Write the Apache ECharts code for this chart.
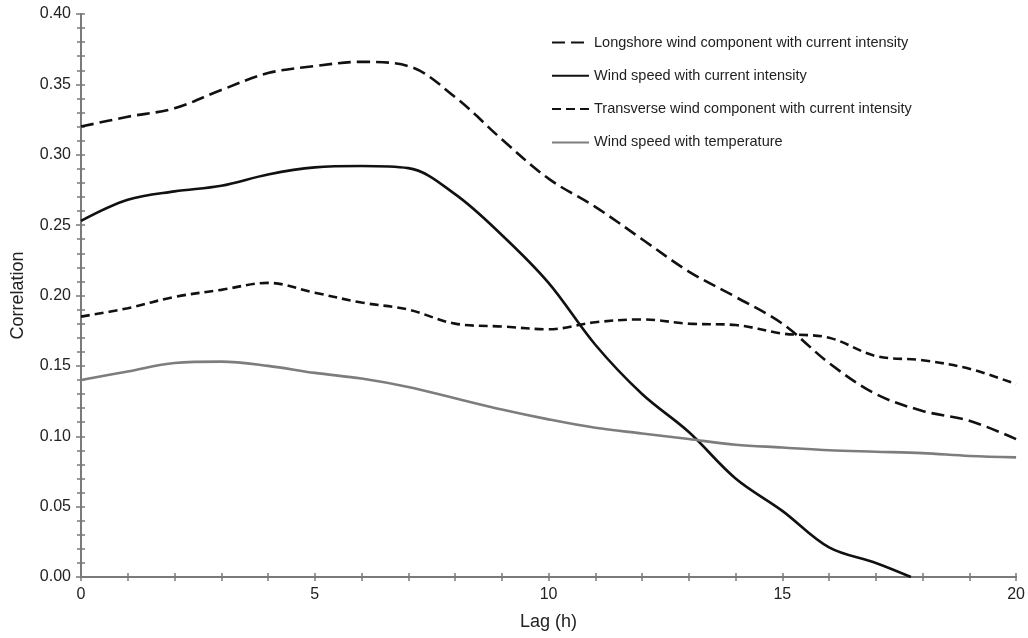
<!DOCTYPE html>
<html>
<head>
<meta charset="utf-8">
<title>Lagged correlation</title>
<script src="https://cdn.jsdelivr.net/npm/echarts@6/dist/echarts.min.js"></script>
<style>
  html, body { margin: 0; padding: 0; background: #ffffff; }
  #chart { width: 1028px; height: 638px; }
</style>
</head>
<body>
<div id="chart"></div>
<script>
// Lag in hours
const lags = [0, 1, 2, 3, 4, 5, 6, 7, 8, 9, 10, 11, 12, 13, 14, 15, 16, 17, 18, 19, 20];

// Correlation series
const longshore   = [0.320, 0.327, 0.333, 0.346, 0.358, 0.363, 0.366, 0.363, 0.341, 0.311, 0.283, 0.263, 0.240, 0.217, 0.199, 0.180, 0.152, 0.130, 0.118, 0.111, 0.098];
const transverse  = [0.185, 0.191, 0.199, 0.204, 0.209, 0.202, 0.195, 0.190, 0.180, 0.178, 0.176, 0.181, 0.183, 0.180, 0.179, 0.173, 0.170, 0.157, 0.154, 0.148, 0.137];
const temperature = [0.140, 0.146, 0.152, 0.153, 0.150, 0.145, 0.141, 0.135, 0.127, 0.119, 0.112, 0.106, 0.102, 0.098, 0.094, 0.092, 0.090, 0.089, 0.088, 0.086, 0.085];

// Wind speed vs current intensity reaches zero before lag 18
const windSpeedLags = [0, 1, 2, 3, 4, 5, 6, 7, 8, 9, 10, 11, 12, 13, 14, 15, 16, 17, 17.75];
const windSpeed     = [0.253, 0.268, 0.274, 0.278, 0.286, 0.291, 0.292, 0.2905, 0.272, 0.243, 0.209, 0.165, 0.130, 0.103, 0.070, 0.047, 0.021, 0.010, 0.000];

const yTicks = ['0.00', '0.05', '0.10', '0.15', '0.20', '0.25', '0.30', '0.35', '0.40'];

const seriesNames = [
  'Longshore wind component with current intensity',
  'Wind speed with current intensity',
  'Transverse wind component with current intensity',
  'Wind speed with temperature'
];

const pairs = (xs, ys) => xs.map((x, i) => [x, ys[i]]);

const axisGray = '#7a7a7a';
const font = '"Liberation Sans", Arial, sans-serif';
const tickStyle = { color: axisGray, width: 1.5 };

const chart = echarts.init(document.getElementById('chart'), null, { renderer: 'canvas' });

// Scales shared by the main axes and the tick-only companion axes
const xScale = { type: 'value', min: 0, max: 20, splitLine: { show: false } };
const yScale = { type: 'value', min: 0, max: 0.4, splitLine: { show: false } };

chart.setOption({
  backgroundColor: '#ffffff',
  animation: false,
  grid: { left: 81, right: 9, top: 14, bottom: 61, containLabel: false },
  legend: {
    orient: 'vertical',
    left: 546,
    top: 30,
    itemWidth: 37,
    itemHeight: 14,
    itemGap: 18.3,
    itemStyle: { opacity: 0 },
    textStyle: { fontFamily: font, fontSize: 14.5, color: '#222' },
    data: seriesNames
  },
  xAxis: [
    // bottom axis: labels and outward major ticks
    Object.assign({}, xScale, {
      position: 'bottom', interval: 5,
      name: 'Lag (h)',
      nameLocation: 'middle',
      nameGap: 36,
      nameTextStyle: { fontFamily: font, fontSize: 18, color: '#222' },
      axisLine: { show: true, lineStyle: { color: axisGray, width: 2 } },
      axisTick: { show: true, inside: false, length: 4, lineStyle: tickStyle },
      axisLabel: { margin: 10, fontFamily: font, fontSize: 16, color: '#222' }
    }),
    // bottom axis: inward ticks every hour
    Object.assign({}, xScale, {
      position: 'bottom', interval: 1,
      axisLine: { show: false },
      axisTick: { show: true, inside: true, length: 4, lineStyle: tickStyle },
      axisLabel: { show: false }
    }),
    // top frame with inward ticks
    Object.assign({}, xScale, {
      position: 'top', interval: 1,
      axisLine: { show: true, lineStyle: { color: axisGray, width: 2 } },
      axisTick: { show: true, inside: true, length: 4, lineStyle: tickStyle },
      axisLabel: { show: false }
    })
  ],
  yAxis: [
    // left axis: labels and outward major ticks
    Object.assign({}, yScale, {
      position: 'left', interval: 0.05,
      name: 'Correlation',
      nameLocation: 'middle',
      nameGap: 54,
      nameRotate: 90,
      nameTextStyle: { fontFamily: font, fontSize: 18, color: '#222' },
      axisLine: { show: true, lineStyle: { color: axisGray, width: 2 } },
      axisTick: { show: true, inside: false, length: 5, lineStyle: tickStyle },
      axisLabel: {
        margin: 10, fontFamily: font, fontSize: 16, color: '#222',
        formatter: (v) => yTicks[Math.round(v / 0.05)]
      }
    }),
    // left axis: inward ticks every 0.01
    Object.assign({}, yScale, {
      position: 'left', interval: 0.01,
      axisLine: { show: false },
      axisTick: { show: true, inside: true, length: 4, lineStyle: tickStyle },
      axisLabel: { show: false }
    }),
    // right frame with inward ticks
    Object.assign({}, yScale, {
      position: 'right', interval: 0.01,
      axisLine: { show: true, lineStyle: { color: axisGray, width: 2 } },
      axisTick: { show: true, inside: true, length: 4, lineStyle: tickStyle },
      axisLabel: { show: false }
    })
  ],
  series: [
    {
      name: seriesNames[0], type: 'line', smooth: 0.35, symbol: 'none',
      xAxisIndex: 0, yAxisIndex: 0,
      lineStyle: { color: '#111', width: 2.6, type: [13, 6] },
      itemStyle: { color: '#111' },
      data: pairs(lags, longshore)
    },
    {
      name: seriesNames[1], type: 'line', smooth: 0.35, symbol: 'none',
      xAxisIndex: 0, yAxisIndex: 0,
      lineStyle: { color: '#111', width: 2.6, type: 'solid' },
      itemStyle: { color: '#111' },
      data: pairs(windSpeedLags, windSpeed)
    },
    {
      name: seriesNames[2], type: 'line', smooth: 0.35, symbol: 'none',
      xAxisIndex: 0, yAxisIndex: 0,
      lineStyle: { color: '#111', width: 2.6, type: [9, 5] },
      itemStyle: { color: '#111' },
      data: pairs(lags, transverse)
    },
    {
      name: seriesNames[3], type: 'line', smooth: 0.35, symbol: 'none',
      xAxisIndex: 0, yAxisIndex: 0,
      lineStyle: { color: '#7d7d7d', width: 2.6, type: 'solid' },
      itemStyle: { color: '#7d7d7d' },
      data: pairs(lags, temperature)
    }
  ]
});
</script>
</body>
</html>
